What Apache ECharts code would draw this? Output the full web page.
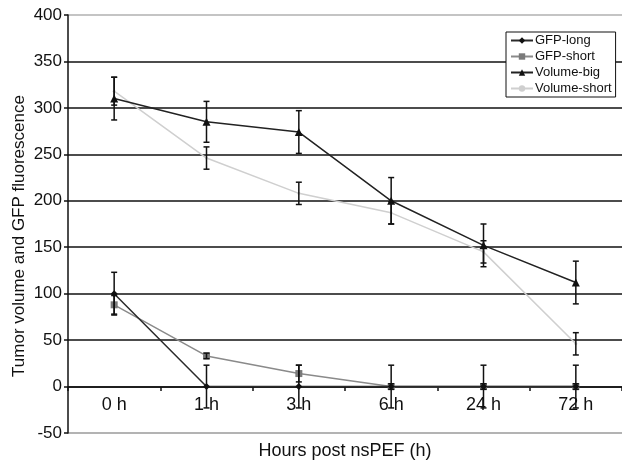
<!DOCTYPE html>
<html>
<head>
<meta charset="utf-8">
<script src="https://cdn.jsdelivr.net/npm/echarts@6/dist/echarts.min.js"></script>
<style>html,body{margin:0;padding:0;background:#fff}#c{width:622px;height:463px}</style>
</head>
<body>
<div id="c"></div>
<script>
var categories = ['0 h', '1 h', '3 h', '6 h', '24 h', '72 h'];
var gfpLong = [100, 0, 0, 0, 0, 0];
var gfpLongErr = [23, 23, 23, 23, 23, 23];
var gfpShort = [88, 33, 14, 0, 0, 0];
var gfpShortErr = [10, 3, 9, 3, 3, 3];
var volBig = [310, 285, 274, 200, 152, 112];
var volBigErr = [23, 22, 23, 25, 23, 23];
var volShort = [318, 246, 208, 187, 145, 46];
var volShortErr = [15, 12, 12, 12, 12, 12];
var yTicks = {min: -50, max: 400, interval: 50};

var FONT = "'Liberation Sans', Arial, sans-serif";
var chart = echarts.init(document.getElementById('c'), null, {renderer: 'canvas'});

function errSeries(name, vals, errs) {
  return {
    type: 'custom', name: name + ' err', silent: true, z: 6,
    data: vals.map(function (v, i) { return [i, v - errs[i], v + errs[i]]; }),
    encode: {x: 0, y: [1, 2]},
    renderItem: function (params, api) {
      var x = api.value(0);
      var lo = api.coord([x, api.value(1)]);
      var hi = api.coord([x, api.value(2)]);
      var w = 3;
      var st = {stroke: '#111', lineWidth: 1.5};
      return {type: 'group', children: [
        {type: 'line', shape: {x1: lo[0], y1: lo[1], x2: hi[0], y2: hi[1]}, style: st},
        {type: 'line', shape: {x1: lo[0] - w, y1: lo[1], x2: lo[0] + w, y2: lo[1]}, style: st},
        {type: 'line', shape: {x1: hi[0] - w, y1: hi[1], x2: hi[0] + w, y2: hi[1]}, style: st}
      ]};
    }
  };
}

var splitColors = ['#9a9a9a', '#111', '#111', '#111', '#111', '#111', '#111', '#111', '#111', '#b0b0b0'];

chart.setOption({
  animation: false,
  backgroundColor: '#fff',
  textStyle: {fontFamily: FONT},
  grid: {left: 68, top: 15, width: 557, height: 418, containLabel: false},
  legend: {
    data: ['GFP-long', 'GFP-short', 'Volume-big', 'Volume-short'],
    orient: 'vertical', left: 506, top: 32,
    backgroundColor: '#fff', borderColor: '#111', borderWidth: 1,
    padding: [2, 4, 2, 4], itemGap: 3, itemWidth: 22, itemHeight: 8,
    textStyle: {fontSize: 13, color: '#111', fontFamily: FONT, padding: [0, 0, 0, -3]}
  },
  xAxis: {
    type: 'category', data: categories, boundaryGap: true,
    position: 'bottom', offset: -46,
    axisLine: {onZero: false, lineStyle: {color: '#111', width: 1.5}},
    axisTick: {show: true, length: 4, lineStyle: {color: '#111', width: 1.5}},
    axisLabel: {fontSize: 18, color: '#111', margin: 9, fontFamily: FONT},
    splitLine: {show: false}
  },
  yAxis: {
    type: 'value', min: yTicks.min, max: yTicks.max, interval: yTicks.interval,
    axisLine: {show: true, lineStyle: {color: '#111', width: 1.5}},
    axisTick: {show: true, length: 4, lineStyle: {color: '#111', width: 1.5}},
    axisLabel: {fontSize: 17, color: '#111', margin: 6, fontFamily: FONT},
    splitLine: {show: true, lineStyle: {color: splitColors, width: 1.5}}
  },
  graphic: [
    {type: 'text', x: 345, y: 451, style: {text: 'Hours post nsPEF (h)', x: 0, y: 0, textAlign: 'center', textVerticalAlign: 'middle', font: '18px ' + FONT, fill: '#111'}},
    {type: 'text', x: 19, y: 236, rotation: Math.PI / 2, style: {text: 'Tumor volume and GFP fluorescence', x: 0, y: 0, textAlign: 'center', textVerticalAlign: 'middle', font: '17px ' + FONT, fill: '#111'}}
  ],
  series: [
    {name: 'Volume-short', type: 'line', data: volShort, symbol: 'circle', symbolSize: 3,
      lineStyle: {color: '#cfcfcf', width: 1.5}, itemStyle: {color: '#cfcfcf'}, z: 2},
    {name: 'GFP-short', type: 'line', data: gfpShort, symbol: 'rect', symbolSize: 7,
      lineStyle: {color: '#8a8a8a', width: 1.5}, itemStyle: {color: '#7a7a7a'}, z: 3},
    {name: 'GFP-long', type: 'line', data: gfpLong, symbol: 'diamond', symbolSize: 7,
      lineStyle: {color: '#2a2a2a', width: 1.5}, itemStyle: {color: '#111'}, z: 4},
    {name: 'Volume-big', type: 'line', data: volBig, symbol: 'triangle', symbolSize: 8,
      lineStyle: {color: '#222', width: 1.5}, itemStyle: {color: '#111'}, z: 4},
    errSeries('Volume-short', volShort, volShortErr),
    errSeries('GFP-short', gfpShort, gfpShortErr),
    errSeries('GFP-long', gfpLong, gfpLongErr),
    errSeries('Volume-big', volBig, volBigErr)
  ]
});
</script>
</body>
</html>
